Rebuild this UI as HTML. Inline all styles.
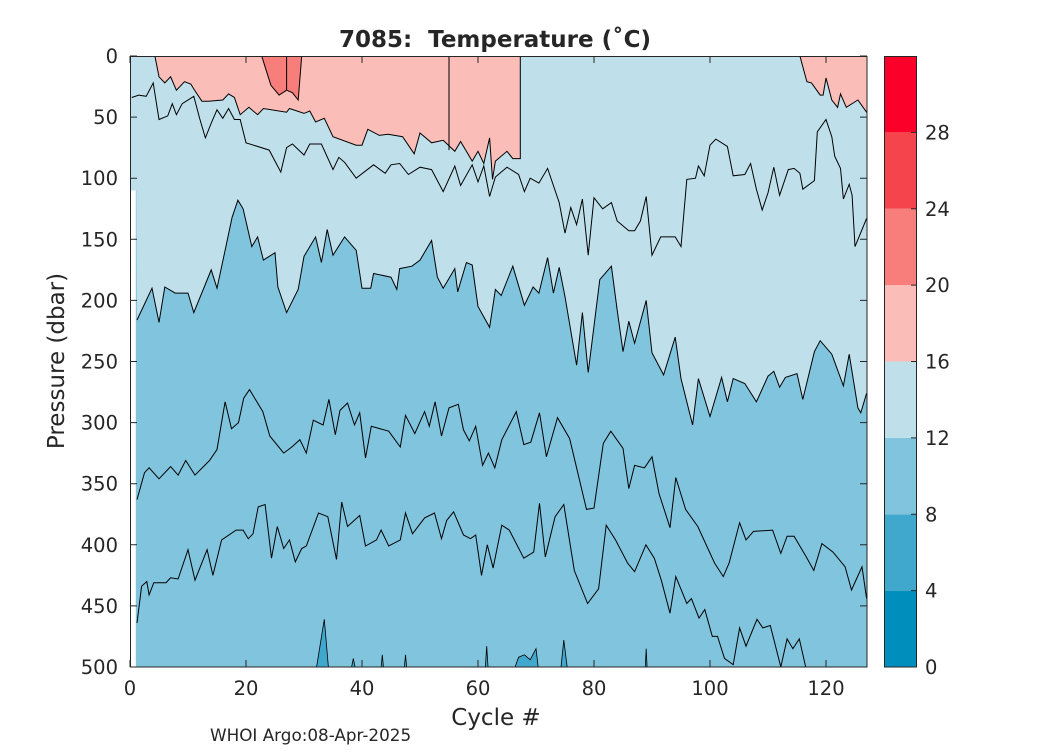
<!DOCTYPE html>
<html><head><meta charset="utf-8"><style>
body{margin:0;background:#fff;}
svg text{font-family:"DejaVu Sans","Liberation Sans",sans-serif;fill:#262626;}
</style></head><body>
<svg id="chart" width="1050" height="750" viewBox="0 0 1050 750" xmlns="http://www.w3.org/2000/svg">
<defs><clipPath id="plotClip"><rect x="130" y="56" width="737" height="611"/></clipPath></defs>
<g id="plot" clip-path="url(#plotClip)"></g>
<g id="axes"></g>
<g id="cbar"></g>
<text x="495" y="47" text-anchor="middle" font-size="23" font-weight="bold" style="white-space:pre">7085:  Temperature (˚C)</text>
<text x="496" y="725" text-anchor="middle" font-size="23">Cycle #</text>
<text transform="translate(64,361) rotate(-90)" text-anchor="middle" font-size="23">Pressure (dbar)</text>
<text x="210" y="741" font-size="16.8">WHOI Argo:08-Apr-2025</text>
</svg>
<script>
const xTicks=[0,20,40,60,80,100,120];
const yTicks=[0,50,100,150,200,250,300,350,400,450,500];
const cbarLevels=[0,4,8,12,16,20,24,28,32];
const cbarColors=["#008fbd","#40a8cc","#80c4de","#bfe0eb","#fbbdb7","#f77e7b","#f6444d","#fb0028"];
const cbarLabels=[0,4,8,12,16,20,24,28];

const d12Cycle=[1.2,3.8,5,6,7.8,10,11,14,15,16.4,17.6,18.6,19.5,21,22,23,25,25.5,27,29,30,32,33,34,35,37,39,40,41.5,42,45,46,46.5,48.6,50,52,53,54,56,56.5,58,59,60,62,63,64,66,68,69.5,70.5,72,73,74,75,77,78,79,81,83,84,85,86,87,89,90,92,94,95,97,98,100,102,103,104,106,108,110,111,112,113,115,116,118,119,121,123,124,125.5,126,127];
const d12Depth=[216,190,218,189,194,194,210,175,190,159,132,118,125,156,148,167,161,189,210,191,164,148,169,142,163,148,159,190,190,178,181,191,174,172,167,151,181,190,174,193,169,171,205,222,191,196,172,204,189,194,165,194,173,197,253,210,259,183,172,208,242,217,235,200,243,261,230,264,302,264,295,263,283,264,268,283,262,258,271,263,260,281,242,233,244,270,244,288,292,276];

const d14Cycle=[0.3,1.5,2.8,4,5,6.5,7.3,8,9,11,12,13,14,15,16,17,18,19,20,24,26,27,28,30,31,33,35,36,37,39,42,44,45,46.5,48,50,52,54,56,57,59,60,61,62,63,65,67,68,69,70.5,72,74,75,76,77,78,79,80,81.5,83,84,86,87,88,89,90,91.5,94,95,96,97.5,98,99,100,101,103,104,106,107,108,109,110,111,112,113.5,114.5,115.5,116,118,118.5,120,121,121.5,122.5,123,124,124.5,125,127];
const d14Depth=[34,32,33,22,52,49,39,48,39,33,51,67,55,44,51,43,52,52,71,77,95,75,72,81,72,72,93,83,87,100,89,96,89,88,97,91,93,111,90,106,89,103,90,115,99,91,97,111,100,104,92,120,145,124,138,117,163,116,125,120,135,143,143,135,115,163,148,148,156,101,100,90,98,73,68,74,98,97,88,109,126,112,91,114,93,92,96,109,102,62,52,66,82,92,117,105,114,156,133];

const d16Cycle=[4.3,5,6,7,8,9.4,10.5,11,12.4,13.5,16,17,18,19,20.5,22,23,27,27.5,30,31,32,33.5,35,39,40,41,43,44.5,47,49,50,52,54,56,57,59,60,61,62,62.5,63,65,66,67.3,67.3];
const d16Depth=[0,17,22,17,28,21,23,27,37,37,36,31,34,48,42,48,43,46,43,47,45,54,51,66,73,73,60,65,64,66,80,63,71,69,78,70,86,78,88,67,101,86,78,84,84,0];

const d16RightCycle=[115.5,116.7,117.5,119,119.5,120,121,122,122.5,123.5,125.5,127];
const d16RightDepth=[0,21,22,32,32,18,36,42,31,42,36,46];

const d20Cycle=[22.7,23.5,24.3,25.7,27,28,29,29.6];
const d20Depth=[0,12,24,32,28,30,36,0];

const lineACycle=[1.2,2.5,3.3,5,7,8.3,9.6,11.2,13.7,15,16.4,17.5,18.7,19.6,20.6,22.9,24.1,26.5,27.9,29.3,30.4,31.6,33.3,34.3,35.4,36.2,37.5,38.7,39.6,40.6,41.6,44.6,46.6,47.5,49.1,50.8,51.6,52.6,53.7,55,56.6,57.5,58.5,59.6,60.8,61.8,62.9,64.1,66.6,67.9,69.1,70.6,71.8,73.7,75.8,78.7,80,81.6,82.9,85,86,87,88.7,90,91.2,93.1,94.1,95.8,97.9,100.8,102.3,103.3,105.1,106.2,107.5,110.8,112.2,113.3,114.5,116.6,117.9,119.3,121.2,123.3,124.4,126.2,127];
const lineADepth=[363,341,337,346,336,343,331,343,331,322,283,305,300,280,273,291,311,325,320,314,325,298,302,281,310,290,284,302,292,329,303,307,320,294,309,291,303,283,311,288,285,306,315,303,335,325,337,314,291,318,316,292,328,296,313,371,370,317,307,321,354,335,337,328,358,386,345,371,385,415,426,415,382,396,389,388,407,393,393,410,421,399,406,418,437,418,444];

const lineBCycle=[1.2,2,2.9,3.3,4.1,6.2,7,8.3,10,11.2,13.3,14.3,15.8,18.3,19.5,20.4,21.2,22.1,23.3,24.4,25.4,26.5,27.5,28.5,29.6,30.4,32.5,34.1,35.6,36.5,37.5,39.6,40.6,42.5,43.3,44.6,46.6,47.5,48.7,50.8,52.5,53.7,54.6,55.8,57.5,58.7,59.6,60.6,61.6,62.6,64.1,65.4,67.9,69.6,70.6,71.6,73.3,74.8,76.6,78.9,80.8,82.1,83.7,85.8,87,88.95,90.4,91.6,93.1,94.1,96,96.8,98.1,99.1,100.4,101.3,102.5,104,105.1,106.2,108.1,109.1,110.4,112.2,113.3,114.3,115.4,116.5,117.5];
const lineBDepth=[464,434,430,441,431,431,427,428,404,429,404,425,396,388,388,395,391,369,367,411,385,403,396,414,403,401,374,377,412,365,385,376,401,396,388,401,396,374,391,378,374,395,380,373,392,395,392,425,400,419,384,388,411,406,366,410,377,367,421,448,436,384,396,415,422,400,411,429,456,426,448,444,460,453,475,475,493,498,468,483,461,468,466,500,477,485,477,500,520];

const d8Cycle=[31.5,32,33.5,34.3,38,38.5,39,43.2,43.5,43.8,47.2,47.5,47.8,61.2,61.5,61.8,66,67,68,69,70,70.5,74.2,74.8,75.5,88.8,89,89.2];
const d8Depth=[510,505,461,505,505,493,505,505,490,505,505,490,505,505,483,505,505,492,490,494,485,505,505,478,505,505,485,505];

const X=c=>130+5.8*c, Y=d=>56+1.222*d;
const NS="http://www.w3.org/2000/svg";
function mk(tag,parent){const e=document.createElementNS(NS,tag);parent.appendChild(e);return e;}
function pts(cs,ds){return cs.map((c,i)=>X(c).toFixed(1)+","+Y(ds[i]).toFixed(1));}
const plot=document.getElementById('plot');

let r=mk('rect',plot);


r.setAttribute('x',X(1));r.setAttribute('y',56);r.setAttribute('width',X(127)-X(1)+1);r.setAttribute('height',611);r.setAttribute('fill',cbarColors[2]);

let p=mk('polygon',plot);


p.setAttribute('points',[X(d8Cycle[0])+","+Y(520)].concat(pts(d8Cycle,d8Depth),[X(d8Cycle[d8Cycle.length-1])+","+Y(520)]).join(" "));
p.setAttribute('fill',cbarColors[1]);p.setAttribute('stroke','#000');p.setAttribute('stroke-width','0.8');

p=mk('polygon',plot);


p.setAttribute('points',[X(0)+","+Y(0),X(0)+","+Y(110),X(1.1)+","+Y(110)].concat(pts(d12Cycle,d12Depth),[X(127.5)+","+Y(d12Depth[d12Depth.length-1]),X(127.5)+","+Y(0)]).join(" "));
p.setAttribute('fill',cbarColors[3]);

p=mk('polyline',plot);


p.setAttribute('points',pts(d12Cycle,d12Depth).join(" "));
p.setAttribute('fill','none');p.setAttribute('stroke','#000');p.setAttribute('stroke-width','1');

p=mk('polygon',plot);


p.setAttribute('points',pts(d16Cycle,d16Depth).join(" "));
p.setAttribute('fill',cbarColors[4]);p.setAttribute('stroke','#000');p.setAttribute('stroke-width','1');

p=mk('polygon',plot);


p.setAttribute('points',pts(d16RightCycle,d16RightDepth).concat([X(127.5)+","+Y(d16RightDepth[d16RightDepth.length-1]),X(127.5)+","+Y(0)]).join(" "));
p.setAttribute('fill',cbarColors[4]);p.setAttribute('stroke','#000');p.setAttribute('stroke-width','1');

p=mk('polygon',plot);


p.setAttribute('points',pts(d20Cycle,d20Depth).join(" "));
p.setAttribute('fill',cbarColors[5]);p.setAttribute('stroke','#000');p.setAttribute('stroke-width','1');

p=mk('line',plot);


p.setAttribute('x1',X(55));p.setAttribute('x2',X(55));p.setAttribute('y1',Y(0));p.setAttribute('y2',Y(77));p.setAttribute('stroke','#000');

p=mk('line',plot);


p.setAttribute('x1',X(27));p.setAttribute('x2',X(27));p.setAttribute('y1',Y(0));p.setAttribute('y2',Y(28));p.setAttribute('stroke','#000');

[[d14Cycle,d14Depth,'isotherm-14'],[lineACycle,lineADepth,'isotherm-10'],[lineBCycle,lineBDepth,'isotherm-9']].forEach(s=>{
  const l=mk('polyline',plot);
  
  
  l.setAttribute('points',pts(s[0],s[1]).join(" "));
  l.setAttribute('fill','none');l.setAttribute('stroke','#000');l.setAttribute('stroke-width','1');
});

const ax=document.getElementById('axes');
let fr=mk('rect',ax);


fr.setAttribute('x',130.5);fr.setAttribute('y',56.5);fr.setAttribute('width',736.5);fr.setAttribute('height',610.5);fr.setAttribute('fill','none');fr.setAttribute('stroke','#262626');
xTicks.forEach(t=>{
  const x=X(t);
  const tk=mk('path',ax);
  
  
  tk.setAttribute('d',`M${x},667v-7M${x},56v7`);tk.setAttribute('stroke','#262626');
  const tx=mk('text',ax);
  
  
  tx.setAttribute('x',x);tx.setAttribute('y',695);tx.setAttribute('text-anchor','middle');tx.setAttribute('font-size','19.5');tx.textContent=t;
});
yTicks.forEach(t=>{
  const y=Y(t);
  const tk=mk('path',ax);
  
  
  tk.setAttribute('d',`M130,${y}h7M867,${y}h-7`);tk.setAttribute('stroke','#262626');
  const tx=mk('text',ax);
  
  
  tx.setAttribute('x',118);tx.setAttribute('y',y+7);tx.setAttribute('text-anchor','end');tx.setAttribute('font-size','19.5');tx.textContent=t;
});

const cb=document.getElementById('cbar');
const CY=v=>667-(v/32)*611;
cbarColors.forEach((c,i)=>{
  const s=mk('rect',cb);
  
  
  s.setAttribute('x',884);s.setAttribute('y',CY(cbarLevels[i+1]));s.setAttribute('width',33);s.setAttribute('height',CY(cbarLevels[i])-CY(cbarLevels[i+1]));s.setAttribute('fill',c);
});
let cf=mk('rect',cb);


cf.setAttribute('x',884.5);cf.setAttribute('y',56.5);cf.setAttribute('width',32);cf.setAttribute('height',610.5);cf.setAttribute('fill','none');cf.setAttribute('stroke','#262626');
cbarLabels.forEach(v=>{
  const y=CY(v);
  const tk=mk('path',cb);
  
  
  tk.setAttribute('d',`M917,${y}h-6`);tk.setAttribute('stroke','#262626');
  const tx=mk('text',cb);
  
  
  tx.setAttribute('x',925);tx.setAttribute('y',y+7);tx.setAttribute('font-size','19.5');tx.textContent=v;
});
</script>
</body></html>
